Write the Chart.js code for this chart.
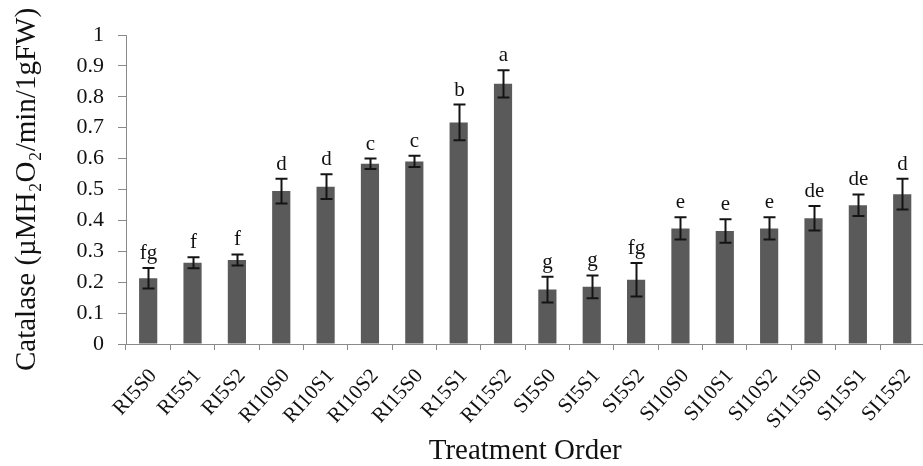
<!DOCTYPE html>
<html>
<head>
<meta charset="utf-8">
<script src="https://cdn.jsdelivr.net/npm/chart.js@4.4.0/dist/chart.umd.min.js"></script>
<style>
    html, body { margin: 0; padding: 0; background: #fff; overflow: hidden; }
    #wrap { width: 923px; height: 466px; overflow: hidden; }
</style>
</head>
<body>
<div id="wrap"><canvas id="catalaseChart" width="935" height="466"></canvas></div>
<script>
// Treatments, means, standard errors and Duncan letters
const treatments = ['RI5S0', 'RI5S1', 'RI5S2', 'RI10S0', 'RI10S1', 'RI10S2', 'RI15S0', 'R15S1', 'RI15S2',
                    'SI5S0', 'SI5S1', 'SI5S2', 'SI10S0', 'SI10S1', 'SI10S2', 'SI115S0', 'SI15S1', 'SI15S2'];
const catalase = [0.213, 0.263, 0.272, 0.495, 0.509, 0.583, 0.591, 0.717, 0.842,
                  0.176, 0.185, 0.208, 0.374, 0.366, 0.374, 0.407, 0.449, 0.485];
const stdErr = [0.033, 0.018, 0.018, 0.040, 0.040, 0.017, 0.018, 0.058, 0.044,
                0.042, 0.037, 0.054, 0.036, 0.038, 0.036, 0.040, 0.035, 0.050];
const letters = ['fg', 'f', 'f', 'd', 'd', 'c', 'c', 'b', 'a',
                 'g', 'g', 'fg', 'e', 'e', 'e', 'de', 'de', 'd'];
const yTicks = [0, 0.1, 0.2, 0.3, 0.4, 0.5, 0.6, 0.7, 0.8, 0.9, 1];

const serif = '"Liberation Serif", "Times New Roman", serif';

// draws the error bars and the letters above them
const errorBarPlugin = {
    id: 'errorBars',
    afterDatasetsDraw(chart) {
        const ctx = chart.ctx;
        const x = chart.scales.x;
        const y = chart.scales.y;
        ctx.save();
        ctx.strokeStyle = '#141414';
        ctx.lineWidth = 2;
        ctx.fillStyle = '#111';
        ctx.font = '21px ' + serif;
        ctx.textAlign = 'center';
        ctx.textBaseline = 'alphabetic';
        catalase.forEach((v, i) => {
            const cx = Math.round(x.getPixelForValue(i)) + 0.5;
            const top = y.getPixelForValue(v + stdErr[i]);
            const bot = y.getPixelForValue(v - stdErr[i]);
            ctx.beginPath();
            ctx.moveTo(cx, top);
            ctx.lineTo(cx, bot);
            ctx.moveTo(cx - 6, top);
            ctx.lineTo(cx + 6, top);
            ctx.moveTo(cx - 6, bot);
            ctx.lineTo(cx + 6, bot);
            ctx.stroke();
            ctx.fillText(letters[i], cx, top - 9);
        });
        ctx.restore();
    }
};

const ctx = document.getElementById('catalaseChart').getContext('2d');
new Chart(ctx, {
    type: 'bar',
    data: {
        labels: treatments,
        datasets: [{
            label: 'Catalase',
            data: catalase,
            backgroundColor: '#5a5a5a',
            borderWidth: 0,
            barPercentage: 0.41,
            categoryPercentage: 1
        }]
    },
    options: {
        responsive: false,
        animation: false,
        layout: { padding: { top: 35, right: 2, left: 0, bottom: 0 } },
        plugins: {
            legend: { display: false },
            tooltip: { enabled: false }
        },
        scales: {
            x: {
                grid: { drawOnChartArea: false, drawTicks: true, tickLength: 6, color: '#8a8a8a', offset: true },
                border: { color: '#8a8a8a', width: 1 },
                ticks: {
                    color: '#111',
                    font: { family: serif, size: 21 },
                    minRotation: 48,
                    maxRotation: 48,
                    padding: 14,
                    labelOffset: 5,
                    autoSkip: false
                },
                title: {
                    display: true,
                    text: 'Treatment Order',
                    color: '#111',
                    font: { family: serif, size: 29, lineHeight: 1 },
                    padding: { top: 0, bottom: 0 }
                },
                afterFit(scale) { scale.height = 122; }
            },
            y: {
                min: 0,
                max: 1,
                afterBuildTicks(scale) { scale.ticks = yTicks.map(v => ({ value: v })); },
                grid: { drawOnChartArea: false, drawTicks: true, tickLength: 8, color: '#8a8a8a' },
                border: { color: '#8a8a8a', width: 1 },
                ticks: {
                    color: '#111',
                    font: { family: serif, size: 22 },
                    padding: 14,
                    callback: v => String(v)
                },
                title: {
                    display: true,
                    text: 'Catalase (µMH₂O₂/min/1gFW)',
                    color: '#111',
                    font: { family: serif, size: 29, lineHeight: 1 },
                    padding: { top: 13, bottom: 0 }
                },
                afterFit(scale) { scale.width = 126; }
            }
        }
    },
    plugins: [errorBarPlugin]
});
</script>
</body>
</html>
